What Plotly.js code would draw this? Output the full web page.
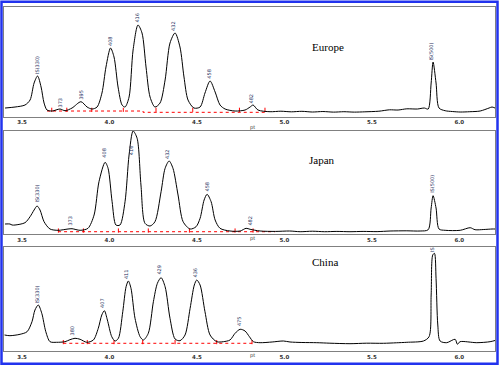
<!DOCTYPE html>
<html><head><meta charset="utf-8">
<script src="https://cdn.plot.ly/plotly-3.0.1.min.js"></script>
<style>html,body{margin:0;padding:0;background:#fff}#chart{width:500px;height:366px}</style>
</head><body><div id="chart"></div>
<script>
// ---- data ----
const tickVals = [3.5, 4.0, 4.5, 5.0, 5.5, 6.0];
const tickText = ["3.5", "4.0", "4.5", "5.0", "5.5", "6.0"];
const panelNames = ["Europe", "Japan", "China"];

const europeX = [3.403,3.460,3.517,3.546,3.569,3.589,3.609,3.626,3.643,3.672,3.717,3.746,3.786,3.837,3.872,3.900,3.929,3.957,3.980,4.006,4.026,4.049,4.072,4.089,4.112,4.135,4.163,4.186,4.209,4.232,4.260,4.289,4.318,4.346,4.375,4.403,4.426,4.449,4.483,4.518,4.546,4.575,4.604,4.632,4.661,4.718,4.775,4.804,4.821,4.849,4.918,4.980,5.040,5.100,5.160,5.220,5.280,5.340,5.400,5.460,5.540,5.600,5.650,5.700,5.760,5.800,5.822,5.839,5.850,5.867,5.884,5.919,5.960,6.005,6.060,6.119,6.170,6.187,6.204];
const europeY = [9,10,12,17,34,41,30,14,7,6,8,6.3,9,15.3,10,8,10,24,50,69,60,30,12,10,20,67,92,84,50,20,10,14,37,74,84,70,40,17,9,10,24,36,25,12,8,6,7,10,12,7,5.3,5.8,5.2,5.7,5.0,5.5,4.9,5.3,4.9,5.2,5.8,7.2,7.0,8.2,8.0,9.0,8,34,55,34,9,6.3,5.5,5,5.3,6,9,10,9];

const japanX = [3.403,3.431,3.443,3.460,3.517,3.546,3.569,3.586,3.603,3.626,3.660,3.706,3.763,3.786,3.832,3.877,3.912,3.940,3.975,3.992,4.015,4.037,4.060,4.089,4.112,4.135,4.158,4.180,4.203,4.232,4.260,4.295,4.318,4.341,4.363,4.392,4.421,4.461,4.495,4.518,4.541,4.558,4.581,4.604,4.632,4.689,4.747,4.781,4.804,4.861,4.950,5.030,5.090,5.160,5.230,5.300,5.375,5.450,5.530,5.604,5.700,5.776,5.822,5.839,5.850,5.867,5.884,5.919,6.005,6.062,6.090,6.140,6.187,6.204];
const japanY = [10,10,9,9,11.3,17.3,24,28,24,12.3,5,3.7,5,5.3,3.7,5.7,19,52.3,71.7,65.7,32.3,9,9,32.3,79,103,95.7,49,10.7,8,12.3,42.3,65.7,73,65.7,39,12.3,5,7.3,15.7,34,39.7,32.3,14,5.7,3,3,5.7,4.7,3,2.6,3.0,2.3,2.8,2.3,2.6,2.3,2.6,2.4,3,3.2,3,4.3,26,38.3,26,5,3.7,3.7,6.3,4.3,4.5,5,5];

const chinaX = [3.400,3.431,3.489,3.529,3.557,3.574,3.593,3.613,3.636,3.660,3.698,3.746,3.774,3.803,3.832,3.870,3.908,3.936,3.956,3.971,3.988,4.013,4.032,4.051,4.076,4.095,4.108,4.123,4.146,4.175,4.194,4.222,4.251,4.274,4.295,4.318,4.346,4.375,4.403,4.432,4.461,4.485,4.499,4.518,4.546,4.575,4.613,4.651,4.689,4.718,4.747,4.775,4.800,4.823,4.861,4.930,4.994,5.032,5.100,5.185,5.260,5.375,5.470,5.566,5.640,5.700,5.795,5.827,5.839,5.848,5.858,5.867,5.877,5.890,5.928,5.976,5.989,6.004,6.100,6.176,6.214];
const chinaY = [16,15.3,16.7,19.3,29.3,41,46,37.7,19.3,9.3,8.7,9.3,11.3,12.7,11.7,8.7,11,22.7,36,40.3,31,14.3,10,12.7,39.3,64.3,70,62.7,32.7,14.3,11,17.7,49.3,67.7,73.3,64.3,32.7,12,10.3,16,42.7,66,71,66,39.3,16,9.3,9.3,11,17.7,21.7,20,14.3,9.3,8.3,9.0,10,9,8.5,8.3,7.8,7.3,7.8,7.7,8.2,8.7,10,14.3,56,96,97.7,72.7,26,10,8.3,11.7,6.7,9.3,8.3,9.3,11];

// integration baselines (red dashed) and valley marks
const europeBaseX = [3.643, 4.192, 4.192, 4.900];
const europeBaseY = [6, 6, 4.7, 4.7];
const europeCutX = [3.670, 3.756, 3.899, 4.079, 4.266, 4.476, 4.743, 4.889];
const japanBaseX = [3.706, 4.947];
const japanBaseY = [2.3, 2.3];
const japanCutX = [3.708, 3.851, 4.051, 4.222, 4.457, 4.718, 4.821];
const chinaBaseX = [3.736, 4.815];
const chinaBaseY = [7.7, 7.7];
const chinaCutX = [3.736, 3.873, 4.026, 4.190, 4.375, 4.613, 4.815];

// peak labels
const europeLabels = ["IS(330)", "373", "395", "408", "416", "432", "458", "482", "IS(500)"];
const europeLabelX = [3.586, 3.717, 3.832, 4.003, 4.158, 4.363, 4.564, 4.809, 5.833];
const europeLabelY = [52, 14.5, 22.5, 76, 99.5, 91, 43.5, 18.5, 65.5];
const japanLabels = ["IS(330)", "373", "408", "416", "432", "458", "482", "IS(500)"];
const japanLabelX = [3.583, 3.769, 3.967, 4.127, 4.329, 4.552, 4.798, 5.843];
const japanLabelY = [40, 13.5, 81, 83.5, 80, 47.5, 13.5, 50];
const chinaLabels = ["IS(330)", "380", "407", "411", "429", "436", "475", "IS"];
const chinaLabelX = [3.583, 3.786, 3.957, 4.095, 4.278, 4.489, 4.741, 5.844];
const chinaLabelY = [56, 20.5, 48, 77, 81.5, 78.5, 30, 101];

// ---- build ----
const panels = [
  {x: europeX, y: europeY, bx: europeBaseX, by: europeBaseY, cx: europeCutX, lab: europeLabels, lx: europeLabelX, ly: europeLabelY},
  {x: japanX, y: japanY, bx: japanBaseX, by: japanBaseY, cx: japanCutX, lab: japanLabels, lx: japanLabelX, ly: japanLabelY},
  {x: chinaX, y: chinaY, bx: chinaBaseX, by: chinaBaseY, cx: chinaCutX, lab: chinaLabels, lx: chinaLabelX, ly: chinaLabelY}
];
const yDomains = [[0.6811, 0.9817], [0.3598, 0.6421], [0.0410, 0.3251]];
const yRanges = [[0.3, 110.3], [-0.3, 103], [0, 104]];
const titlePos = [[0.656, 0.8934], [0.644, 0.5628], [0.650, 0.2623]];
const ptPos = [0.653, 0.333, 0.014];

const traces = [];
const annotations = [];
const layout = {
  width: 500, height: 366,
  margin: {l: 0, r: 0, t: 0, b: 0},
  paper_bgcolor: '#ffffff', plot_bgcolor: '#ffffff',
  showlegend: false,
  shapes: [{type: 'rect', xref: 'paper', yref: 'paper', x0: 0.003, x1: 0.995, y0: 0.006, y1: 0.995,
            line: {color: '#2233ee', width: 2.5}}],
  annotations: annotations
};

panels.forEach((p, i) => {
  const sfx = i === 0 ? '' : String(i + 1);
  const xa = 'x' + sfx, ya = 'y' + sfx;
  traces.push({x: p.bx, y: p.by, xaxis: xa, yaxis: ya, mode: 'lines',
    line: {color: '#ff0000', width: 1, dash: 'dot'}, hoverinfo: 'skip'});
  traces.push({x: p.cx, y: p.cx.map(() => (i === 0 ? 6 : p.by[0]) + 1.2), xaxis: xa, yaxis: ya, mode: 'markers',
    marker: {symbol: 'line-ns-open', size: 3, color: '#ff0000', line: {color: '#ff0000', width: 1}}, hoverinfo: 'skip'});
  traces.push({x: p.x, y: p.y, xaxis: xa, yaxis: ya, mode: 'lines',
    line: {color: '#000000', width: 1, shape: 'spline', smoothing: 0.8}});
  layout['xaxis' + sfx] = {
    domain: [0.008, 0.99], range: [3.397, 6.204], anchor: ya,
    showline: true, mirror: true, linecolor: '#808080', linewidth: 1,
    showgrid: false, zeroline: false, ticks: '',
    tickvals: tickVals, ticktext: tickText,
    tickfont: {family: 'DejaVu Sans', size: 5.5, color: '#333333', weight: 'bold'}
  };
  layout['yaxis' + sfx] = {
    domain: yDomains[i], range: yRanges[i], anchor: xa,
    showline: true, mirror: true, linecolor: '#808080', linewidth: 1,
    showgrid: false, zeroline: false, ticks: '', showticklabels: false
  };
  annotations.push({text: panelNames[i], xref: 'paper', yref: 'paper', x: titlePos[i][0], y: titlePos[i][1],
    showarrow: false, font: {family: 'Liberation Serif', size: 11, color: '#000000', weight: 'normal'}});
  annotations.push({text: 'pt', xref: 'paper', yref: 'paper', x: 0.504, y: ptPos[i],
    showarrow: false, font: {family: 'DejaVu Sans', size: 5, color: '#333333'}});
  p.lab.forEach((t, k) => {
    annotations.push({text: t, xref: xa, yref: ya, x: p.lx[k], y: p.ly[k], textangle: -90,
      showarrow: false, font: {family: 'DejaVu Sans', size: 5, color: '#1a2a5a'}});
  });
});

Plotly.newPlot('chart', traces, layout, {staticPlot: true, displayModeBar: false});
</script>
</body></html>
